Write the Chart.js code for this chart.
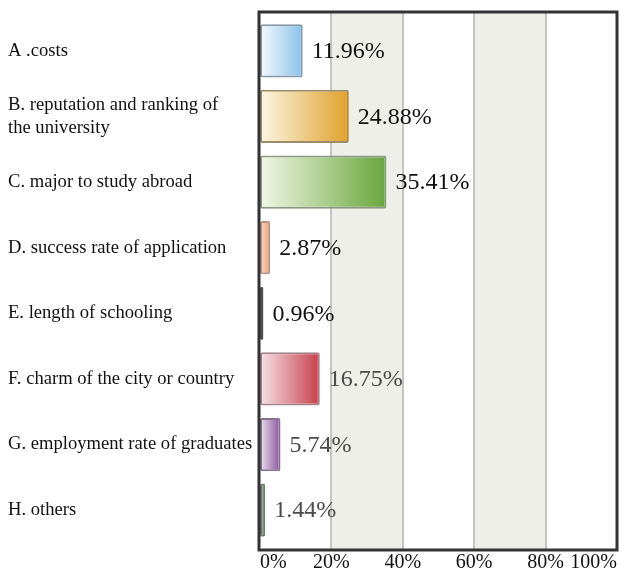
<!DOCTYPE html>
<html>
<head>
<meta charset="utf-8">
<script src="https://cdn.jsdelivr.net/npm/chart.js@4.4.1/dist/chart.umd.min.js"></script>
<style>
  html, body { margin: 0; padding: 0; background: #fff; }
  #wrap { width: 638px; height: 577px; }
</style>
</head>
<body>
<div id="wrap"><canvas id="factors"></canvas></div>
<script>
// factors considered when choosing where to study abroad (% of answers)
const categories = [
  'A .costs',
  ['B. reputation and ranking of', 'the university'],
  'C. major to study abroad',
  'D. success rate of application',
  'E. length of schooling',
  'F. charm of the city or country',
  'G. employment rate of graduates',
  'H. others'
];
const shares = [11.96, 24.88, 35.41, 2.87, 0.96, 16.75, 5.74, 1.44];
const xTicks = [0, 20, 40, 60, 80, 100];

// gradient stops per bar: pale on the left, full colour at the end
const lightColors = ['#f5fafd', '#fdf6e4', '#f1f7e6', '#fbdccb', '#6a6a6a', '#f7e2e5', '#ecdff1', '#a4bca6'];
const darkColors  = ['#8ac1ea', '#e0a12a', '#68a63a', '#f29874', '#444444', '#c73f4b', '#87539c', '#78987c'];
const edgeColors  = ['#8797a6', '#9c8c6c', '#8a9a82', '#b49484', '#505050', '#a4848a', '#85738c', '#6a7a6c'];
const labelColors = ['#111', '#111', '#111', '#111', '#111', '#4a4a4a', '#4a4a4a', '#4a4a4a'];

const serif = '"Liberation Serif", "Times New Roman", serif';

// grid bands, gridlines and the frame are stretched a little past the bar area
const frameTop = 6, frameBottom = 7;

const frameAndBands = {
  id: 'frameAndBands',
  beforeDatasetsDraw(chart) {
    const {ctx, chartArea: a, scales: {x}} = chart;
    const top = a.top - frameTop, bottom = a.bottom + frameBottom;
    ctx.save();
    ctx.fillStyle = '#efefea';
    for (const [from, to] of [[20, 40], [60, 80]]) {
      const x0 = x.getPixelForValue(from), x1 = x.getPixelForValue(to);
      ctx.fillRect(x0, top, x1 - x0, bottom - top);
    }
    ctx.strokeStyle = '#c4c4c0';
    ctx.lineWidth = 2;
    for (const v of [20, 40, 60, 80]) {
      const px = Math.round(x.getPixelForValue(v));
      ctx.beginPath();
      ctx.moveTo(px, top);
      ctx.lineTo(px, bottom);
      ctx.stroke();
    }
    ctx.restore();
  },
  afterDatasetsDraw(chart) {
    const {ctx, chartArea: a} = chart;
    ctx.save();
    // value labels to the right of each bar
    const meta = chart.getDatasetMeta(0);
    ctx.font = '24px ' + serif;
    ctx.textAlign = 'left';
    ctx.textBaseline = 'middle';
    meta.data.forEach((bar, i) => {
      ctx.fillStyle = labelColors[i];
      ctx.fillText(shares[i].toFixed(2) + '%', bar.x + 9, bar.y + 1);
    });
    // dark frame round the plot
    ctx.strokeStyle = '#333';
    ctx.lineWidth = 3;
    ctx.strokeRect(a.left - 1, a.top - frameTop, a.right - a.left + 1, a.bottom - a.top + frameTop + frameBottom);
    ctx.restore();
  }
};

function barFill(context) {
  const chart = context.chart;
  const i = context.dataIndex;
  if (!chart.chartArea) return darkColors[i];
  const x = chart.scales.x;
  const g = chart.ctx.createLinearGradient(x.getPixelForValue(0), 0, x.getPixelForValue(shares[i]), 0);
  g.addColorStop(0, lightColors[i]);
  g.addColorStop(1, darkColors[i]);
  return g;
}

new Chart(document.getElementById('factors'), {
  type: 'bar',
  data: {
    labels: categories,
    datasets: [{
      data: shares,
      backgroundColor: barFill,
      borderColor: edgeColors,
      borderWidth: 2,
      borderRadius: 2,
      borderSkipped: false,
      barPercentage: 0.81,
      categoryPercentage: 1
    }]
  },
  options: {
    indexAxis: 'y',
    responsive: true,
    maintainAspectRatio: false,
    animation: false,
    layout: { padding: { left: 8, top: 18, right: 21, bottom: 2 } },
    plugins: {
      legend: { display: false },
      tooltip: { enabled: false }
    },
    scales: {
      x: {
        min: 0,
        max: 100,
        grid: { display: false, drawTicks: false },
        border: { display: false },
        afterBuildTicks(scale) {
          scale.ticks = xTicks.map(v => ({ value: v }));
        },
        afterFit(scale) { scale.height = 32; },
        ticks: {
          align: 'inner',
          padding: 8,
          color: '#111',
          font: { family: serif, size: 20 },
          callback: v => v + '%'
        }
      },
      y: {
        grid: { display: false, drawTicks: false },
        border: { display: false },
        afterFit(scale) { scale.width = 252; },
        ticks: {
          crossAlign: 'far',
          padding: 0,
          color: '#111',
          font: { family: serif, size: 18.6, lineHeight: 1.24 }
        }
      }
    }
  },
  plugins: [frameAndBands]
});
</script>
</body>
</html>
